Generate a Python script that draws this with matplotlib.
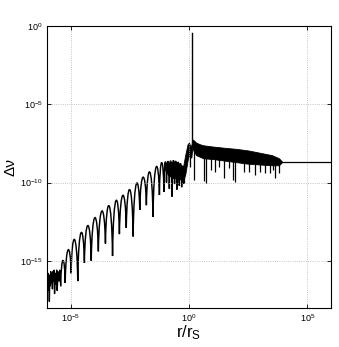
import numpy as np
import matplotlib.pyplot as plt
from matplotlib.path import Path
from matplotlib.patches import PathPatch

plt.rcParams['font.family'] = ['Liberation Sans', 'DejaVu Sans']
plt.rcParams['mathtext.default'] = 'regular'

# all values are log10
# noisy start at small r
noise_logr = [-6.00, -5.98, -5.96, -5.94, -5.92, -5.90, -5.88, -5.86, -5.84, -5.82, -5.80, -5.77,
              -5.75, -5.72, -5.70, -5.68, -5.65, -5.62, -5.59, -5.57, -5.53, -5.49, -5.46, -5.42]
noise_logdv = [-16.1, -16.5, -15.8, -16.9, -15.9, -17.6, -16.0, -16.6, -15.7, -16.4, -15.9, -16.8,
               -15.7, -16.3, -15.6, -17.1, -15.8, -16.5, -15.6, -16.9, -15.7, -16.3, -15.6, -16.6]

# resolved oscillations: minima (cusps) and the maximum between each pair
trough_logr = [-5.42, -5.23, -4.98, -4.70, -4.42, -4.13, -3.83, -3.53, -3.23, -2.94, -2.65,
               -2.36, -2.08, -1.80, -1.52, -1.25, -1.06, -0.95, -0.83, -0.72, -0.61, -0.51,
               -0.41, -0.31, -0.24]
trough_logdv = [-16.60, -16.42, -15.80, -16.30, -15.14, -15.00, -14.40, -13.90, -14.70, -13.30, -12.90,
                -13.45, -11.75, -11.45, -12.20, -10.80, -10.60, -10.00, -10.40, -10.90, -10.10, -10.45,
                -10.20, -10.30, -10.10]
peak_logdv = [-14.98, -14.30, -13.64, -13.20, -12.75, -12.25, -11.82, -11.48, -11.15, -10.82,
              -10.45, -10.07, -9.66, -9.32, -9.00, -8.72, -8.68, -8.64, -8.61, -8.60, -8.62,
              -8.68, -8.78, -8.92]

# unresolved fast oscillation: upper / lower envelope
band_logr = [-1.00, -0.90, -0.70, -0.50, -0.37, -0.25, -0.16, -0.06, 0.00, 0.06, 0.10,
             0.14, 0.20, 0.30, 0.45, 0.60, 1.00, 1.50, 2.00, 2.50, 3.00, 3.50, 3.80, 3.93]
band_top = [-8.80, -8.72, -8.68, -8.72, -8.84, -8.98, -8.25, -7.55, -7.45, -7.70, -7.60,
            -7.25, -7.30, -7.45, -7.55, -7.62, -7.70, -7.78, -7.85, -7.95, -8.10, -8.25, -8.45, -8.66]
band_bot = [-9.20, -9.50, -9.70, -9.75, -9.80, -9.90, -9.50, -8.60, -8.20, -8.40, -8.40,
            -7.80, -8.00, -8.25, -8.35, -8.45, -8.50, -8.60, -8.70, -8.80, -8.85, -8.90, -8.90, -8.70]

# deep dips reaching below the band
dip_logr = [-0.20, 0.05, 0.20, 0.62, 0.73, 0.95, 1.11, 1.25, 1.46, 1.67, 1.88, 1.96, 2.31,
            2.52, 2.80, 3.01, 3.22, 3.43, 3.55, 3.65, 3.79]
dip_logdv = [-10.00, -8.98, -9.83, -9.90, -10.04, -9.20, -9.30, -9.00, -9.70, -9.06, -9.85,
             -9.94, -9.30, -9.35, -9.50, -9.30, -9.40, -9.40, -9.20, -9.70, -9.40]

# resonance spike near r = r_S
res_logr = 0.127
res_base = -7.4
res_top = -0.47

# constant tail
flat_logr = [3.93, 6.0]
flat_logdv = [-8.68, -8.68]

fig = plt.figure(figsize=(3.39, 3.47), dpi=100)
ax = fig.add_axes([0.1386, 0.1133, 0.8378, 0.8117])

ax.plot(10**np.array(noise_logr), 10**np.array(noise_logdv), color='k', lw=1.0)

# each lobe: cubic bezier from one cusp to the next, top at the read maximum
verts = [(trough_logr[0], trough_logdv[0])]
codes = [Path.MOVETO]
for i, top in enumerate(peak_logdv):
    xa, ya = trough_logr[i], trough_logdv[i]
    xb, yb = trough_logr[i + 1], trough_logdv[i + 1]
    h = (top - 0.125 * (ya + yb)) / 0.75
    w = 0.12 * (xb - xa)
    verts += [(xa + w, h), (xb - w, h), (xb, yb)]
    codes += [Path.CURVE4] * 3
verts = 10**np.array(verts)
ax.add_patch(PathPatch(Path(verts, codes), fc='none', ec='k', lw=1.05))

bx = 10**np.array(band_logr)
ax.fill_between(bx, 10**np.array(band_bot), 10**np.array(band_top), color='k', lw=0.6)

dip_start = np.interp(dip_logr, band_logr, band_bot) + 0.1
ax.vlines(10**np.array(dip_logr), 10**np.array(dip_logdv), 10**dip_start, color='k', lw=0.9)

ax.plot([10**res_logr] * 2, [10**res_base, 10**res_top], color='k', lw=1.0)
ax.plot(10**np.array(flat_logr), 10**np.array(flat_logdv), color='k', lw=0.9)

ax.set_xscale('log')
ax.set_yscale('log')
ax.set_xlim(1e-6, 1e6)
ax.set_ylim(1e-18, 1e0)
ax.set_xticks([1e-5, 1e0, 1e5])
ax.set_yticks([1e-15, 1e-10, 1e-5, 1e0])
ax.minorticks_off()
ax.grid(True, ls=':', color='0.7', lw=0.6)
ax.tick_params(direction='in', top=True, right=True, length=3, width=0.6, labelsize=6.5, pad=3)
for s in ax.spines.values():
    s.set_linewidth(0.8)

ax.set_xlabel(r'r/r$_{S}$', fontsize=12, labelpad=0)
ax.set_ylabel('Δν', fontsize=11, labelpad=2)

fig.savefig('out.png', dpi=100)
